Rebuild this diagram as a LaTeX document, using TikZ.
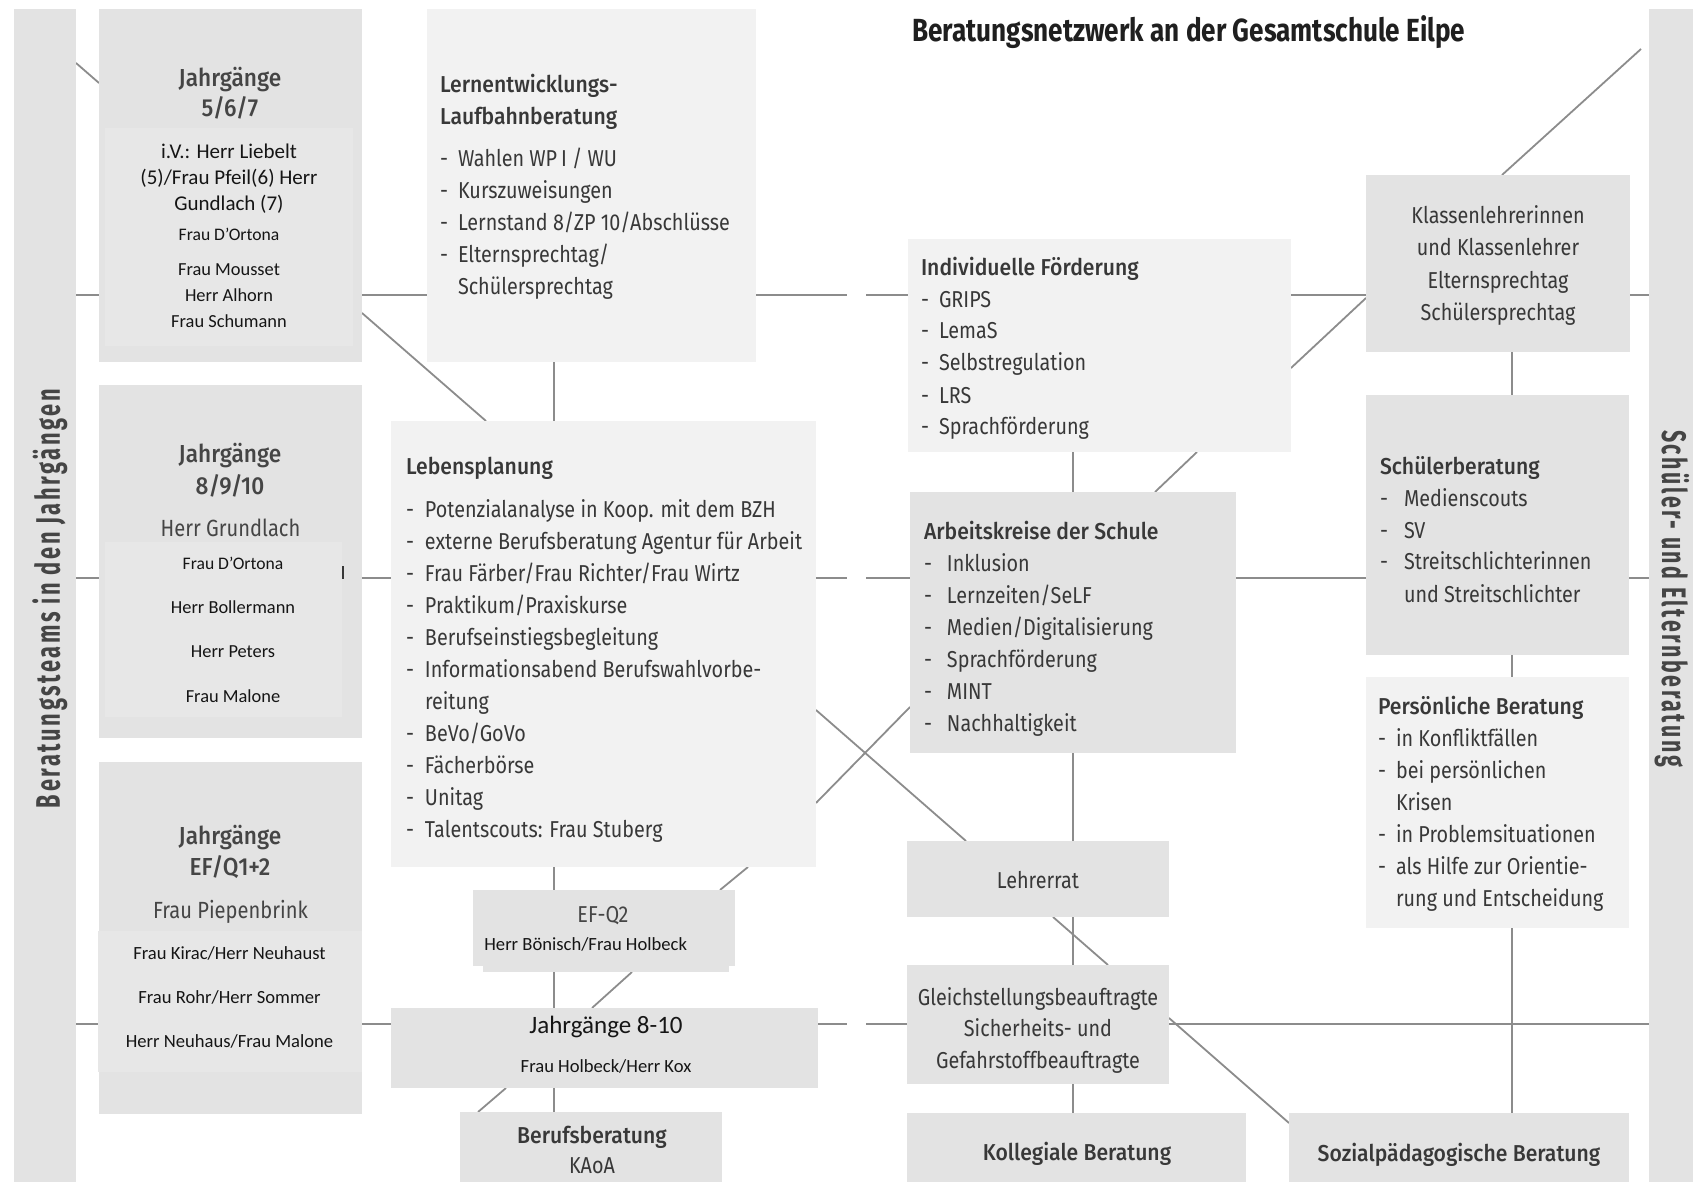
\documentclass[tikz,border=0pt]{standalone}
\usepackage{fontspec}
\usepackage{graphicx}
\usetikzlibrary{fit,calc,backgrounds}

\setmainfont{Fira Sans}[FakeStretch=0.86]
\IfFontExistsTF{FiraSans-Medium.otf}
  {\newfontfamily\headfont{FiraSans-Medium.otf}[FakeStretch=0.92]}
  {\IfFontExistsTF{Fira Sans Medium}
    {\newfontfamily\headfont{Fira Sans Medium}[FakeStretch=0.92]}
    {\newfontfamily\headfontbase{Fira Sans}[FakeStretch=0.9]\newcommand\headfont{\headfontbase\bfseries}}}
\newfontfamily\namefont{Carlito}
\newfontfamily\labelfont{Fira Sans}[FakeStretch=0.8]
\newfontfamily\spacedfont{Fira Sans}[FakeStretch=0.75, LetterSpace=9]

\definecolor{boxgray}{HTML}{E3E3E3}
\definecolor{innergray}{HTML}{E7E7E7}
\definecolor{lightbox}{HTML}{F2F2F2}
\definecolor{linegray}{HTML}{8C8C8C}
\definecolor{txtgray}{HTML}{383838}
\definecolor{headgray}{HTML}{454545}
\definecolor{namecol}{HTML}{151515}

% squeeze a text horizontally to a given width (in pt)
\newsavebox\fitbox
\newcommand\hfit[2]{\sbox\fitbox{#2}\pgfmathsetmacro\fitratio{#1/\the\wd\fitbox}\scalebox{\fitratio}[1]{\usebox\fitbox}}
% first-line strut, list item and continuation line
\newcommand\fst{\rule{0pt}{12pt}}
\newcommand\itm[2][9]{\makebox[#1pt][l]{-}#2}
\newcommand\cnt[2][9]{\hspace*{#1pt}#2}

\begin{document}
\begin{tikzpicture}[x=0.5pt, y=-0.5pt,
  panel/.style={fill=boxgray, inner sep=0pt, outer sep=0pt},
  lpanel/.style={panel, fill=lightbox},
  ipanel/.style={panel, fill=innergray},
  link/.style={draw=linegray, line width=0.9pt},
  list/.style={anchor=north west, inner sep=0pt, outer sep=0pt, align=left,
    text=txtgray, font=\fontsize{11.5}{16}\selectfont},
  clist/.style={list, anchor=north, align=center},
  one/.style={anchor=base, inner sep=0pt, outer sep=0pt, text=txtgray,
    font=\fontsize{11.5}{16}\selectfont},
  names/.style={clist, text=namecol, font=\namefont\fontsize{9.3}{22}\selectfont},
  sidelabel/.style={anchor=base, inner sep=0pt, text=headgray,
    font=\spacedfont\bfseries\fontsize{17}{17}\selectfont}
]
\useasboundingbox (0,0) rectangle (1693,1182);

% ---- side bars
\node[panel, fit={(14,9)(76,1182)}] (leftbar) {};
\node[panel, fit={(1649,9)(1693,1182)}] (rightbar) {};

% ---- left column: year teams
\node[panel, fit={(99,9)(362,362)}] (j567) {};
\node[ipanel, fit={(105,128)(353,346)}] (j567in) {};
\node[panel, fit={(99,385)(362,738)}] (j8910) {};
\node[ipanel, fit={(105,542)(342,717)}] (j8910in) {};
\node[panel, fit={(99,762)(362,1114)}] (jef) {};
\node[ipanel, fit={(98,931)(362,1072)}] (jefin) {};

% ---- second column
\node[lpanel, fit={(427,9)(756,362)}] (lernen) {};
\node[lpanel, fit={(391,421)(816,867)}] (lebens) {};
\node[panel, fit={(473,890)(735,966)}] (efq2) {};
\node[panel, fit={(483,930)(729,972)}] (efq2in) {};
\node[panel, fit={(391,1008)(818,1088)}] (j810) {};
\node[panel, fit={(460,1112)(722,1182)}] (beruf) {};

% ---- third column
\node[lpanel, fit={(908,239)(1291,452)}] (indiv) {};
\node[panel, fit={(910,492)(1236,753)}] (ak) {};
\node[panel, fit={(907,841)(1169,917)}] (lehrer) {};
\node[panel, fit={(907,965)(1169,1084)}] (gleich) {};
\node[panel, fit={(907,1113)(1246,1182)}] (koll) {};

% ---- fourth column
\node[panel, fit={(1366,175)(1630,352)}] (klassen) {};
\node[panel, fit={(1366,395)(1629,655)}] (sb) {};
\node[lpanel, fit={(1366,677)(1629,928)}] (pb) {};
\node[panel, fit={(1289,1113)(1629,1182)}] (sozial) {};

% ---- connectors behind the boxes
\coordinate (row1) at (0,295);
\coordinate (row2) at (0,578);
\coordinate (row3) at (0,1024);
\coordinate (gapL) at (847,0);
\coordinate (gapR) at (866,0);
\coordinate (col1) at (554,0);
\coordinate (col2) at (1073,0);
\coordinate (col3) at (1512,0);

\begin{scope}[on background layer]
  % horizontal rows
  \draw[link] (leftbar.east |- row1) -- (j567.west |- row1);
  \draw[link] (j567.east |- row1) -- (lernen.west |- row1);
  \draw[link] (lernen.east |- row1) -- (gapL |- row1);
  \draw[link] (gapR |- row1) -- (indiv.west |- row1);
  \draw[link] (indiv.east |- row1) -- (klassen.west |- row1);
  \draw[link] (klassen.east |- row1) -- (rightbar.west |- row1);

  \draw[link] (leftbar.east |- row2) -- (j8910.west |- row2);
  \draw[link] (j8910.east |- row2) -- (lebens.west |- row2);
  \draw[link] (lebens.east |- row2) -- (gapL |- row2);
  \draw[link] (gapR |- row2) -- (ak.west |- row2);
  \draw[link] (ak.east |- row2) -- (sb.west |- row2);
  \draw[link] (sb.east |- row2) -- (rightbar.west |- row2);

  \draw[link] (leftbar.east |- row3) -- (jef.west |- row3);
  \draw[link] (jef.east |- row3) -- (j810.west |- row3);
  \draw[link] (j810.east |- row3) -- (gapL |- row3);
  \draw[link] (gapR |- row3) -- (gleich.west |- row3);
  \draw[link] (gleich.east |- row3) -- (rightbar.west |- row3);

  % vertical columns
  \draw[link] (lernen.south -| col1) -- (lebens.north -| col1);
  \draw[link] (lebens.south -| col1) -- (efq2.north -| col1);
  \draw[link] (efq2in.south -| col1) -- (j810.north -| col1);
  \draw[link] (j810.south -| col1) -- (beruf.north -| col1);

  \draw[link] (indiv.south -| col2) -- (ak.north -| col2);
  \draw[link] (ak.south -| col2) -- (lehrer.north -| col2);
  \draw[link] (lehrer.south -| col2) -- (gleich.north -| col2);
  \draw[link] (gleich.south -| col2) -- (koll.north -| col2);

  \draw[link] (klassen.south -| col3) -- (sb.north -| col3);
  \draw[link] (sb.south -| col3) -- (pb.north -| col3);
  \draw[link] (pb.south -| col3) -- (sozial.north -| col3);

  % falling diagonal
  \draw[link] ($(leftbar.north east)+(0,54)$) -- ($(j567.north west)+(0,74)$);
  \draw[link] ($(j567.south east)+(0,-49)$) -- ($(lebens.north west)+(95,0)$);
  \draw[link] ($(lebens.north east)+(0,289)$) -- ($(lehrer.north west)+(59,0)$);
  \draw[link] ($(lehrer.south west)+(146,0)$) -- ($(gleich.north west)+(201,0)$);
  \draw[link] ($(gleich.north east)+(0,53)$) -- ($(sozial.north west)+(0,10)$);

  % rising diagonal
  \draw[link] ($(rightbar.north west)+(-8,40)$) -- ($(klassen.north west)+(136,0)$);
  \draw[link] ($(klassen.north west)+(0,123)$) -- ($(indiv.north east)+(0,129)$);
  \draw[link] ($(indiv.south west)+(289,0)$) -- ($(ak.north west)+(245,0)$);
  \draw[link] ($(ak.north west)+(0,215)$) -- ($(lebens.north east)+(0,382)$);
  \draw[link] ($(lebens.south east)+(-68,0)$) -- ($(efq2.north west)+(247,0)$);
  \draw[link] ($(efq2in.south west)+(149,0)$) -- ($(j810.north west)+(201,0)$);
  \draw[link] ($(j810.south west)+(115,0)$) -- ($(beruf.north west)+(18,0)$);
\end{scope}

% ---- title and side labels
\node[anchor=base west, inner sep=0pt, text=black!88] (title) at (912,42)
  {\hfit{276.5}{\labelfont\bfseries\fontsize{16}{16}\selectfont Beratungsnetzwerk an der Gesamtschule Eilpe}};
\node[sidelabel, rotate=90] (leftlabel) at (60,598.5)
  {\hfit{209.5}{Beratungsteams in den Jahrgängen}};
\node[sidelabel, rotate=-90] (rightlabel) at (1662,598.5)
  {\hfit{168.5}{Schüler- und Elternberatung}};

% ---- year team texts
\node[clist, text=headgray, font=\headfont\fontsize{12.3}{15}\selectfont] (t567) at (230,63)
  {\fst Jahrgänge\\5/6/7};
\node[names, font=\namefont\fontsize{10.5}{13}\selectfont] (n567a) at (229,135)
  {\fst i.V.: Herr Liebelt\\(5)/Frau Pfeil(6) Herr\\Gundlach (7)};
\node[one, text=namecol, font=\namefont\fontsize{8.8}{13}\selectfont] (n567b) at (229,241) {Frau D’Ortona};
\node[names, font=\namefont\fontsize{9.2}{13}\selectfont] (n567c) at (229,252)
  {\fst Frau Mousset\\Herr Alhorn\\Frau Schumann};

\node[clist, text=headgray, font=\headfont\fontsize{12.3}{16}\selectfont] (t8910) at (230,438)
  {\fst Jahrgänge\\8/9/10};
\node[one, text=headgray, font=\fontsize{11.7}{16}\selectfont] (h8910) at (230.5,536) {Herr Grundlach};
\node[names, font=\namefont\fontsize{9.2}{22.2}\selectfont] (n8910) at (233,545)
  {\fst{\fontsize{8.8}{22.2}\selectfont Frau D’Ortona}\\Herr Bollermann\\Herr Peters\\Frau Malone};
\draw[line width=1pt, txtgray] (343,566) -- (343,579);

\node[clist, text=headgray, font=\headfont\fontsize{12.3}{15.5}\selectfont] (tef) at (230,820)
  {\fst Jahrgänge\\EF/Q1+2};
\node[one, text=headgray, font=\fontsize{11.7}{16}\selectfont] (hef) at (230.5,918) {Frau Piepenbrink};
\node[names] (nef) at (229.5,935)
  {\fst Frau Kirac/Herr Neuhaust\\Frau Rohr/Herr Sommer\\Herr Neuhaus/Frau Malone};

% ---- second column texts
\node[list] (lernentxt) at (440,69)
  {\fst{\headfont Lernentwicklungs-}\\{\headfont Laufbahnberatung}\\[5pt]
   \itm{Wahlen WP\,I / WU}\\\itm{Kurszuweisungen}\\\itm{Lernstand 8/ZP 10/Abschlüsse}\\
   \itm{Elternsprechtag/}\\\cnt{Schülersprechtag}};

\node[list] (lebenstxt) at (406,450)
  {\fst{\headfont Lebensplanung}\\[5.5pt]
   \itm[9.5]{Potenzialanalyse in Koop. mit dem BZH}\\
   \itm[9.5]{externe Berufsberatung Agentur für Arbeit}\\
   \itm[9.5]{Frau Färber/Frau Richter/Frau Wirtz}\\
   \itm[9.5]{Praktikum/Praxiskurse}\\
   \itm[9.5]{Berufseinstiegsbegleitung}\\
   \itm[9.5]{Informationsabend Berufswahlvorbe-}\\
   \cnt[9.5]{reitung}\\
   \itm[9.5]{BeVo/GoVo}\\
   \itm[9.5]{Fächerbörse}\\
   \itm[9.5]{Unitag}\\
   \itm[9.5]{Talentscouts: Frau Stuberg}};

\node[one, text=headgray] (efq2txt) at (603,922) {EF-Q2};
\node[anchor=base west, inner sep=0pt, text=namecol, font=\namefont\fontsize{9.3}{12}\selectfont]
  (efq2names) at (484,950) {Herr Bönisch/Frau Holbeck};
\node[one, text=namecol, font=\namefont\fontsize{12.5}{15}\selectfont] (j810txt) at (606,1033) {Jahrgänge 8-10};
\node[one, text=namecol, font=\namefont\fontsize{9.3}{12}\selectfont] (j810names) at (606,1072) {Frau Holbeck/Herr Kox};
\node[clist, font=\fontsize{11.5}{15}\selectfont] (berufstxt) at (592,1119)
  {\fst{\headfont Berufsberatung}\\KAoA};

% ---- third column texts
\node[list] (indivtxt) at (921,251)
  {\fst{\headfont Individuelle Förderung}\\
   \itm{GRIPS}\\\itm{LemaS}\\\itm{Selbstregulation}\\\itm{LRS}\\\itm{Sprachförderung}};
\node[list] (aktxt) at (924,515)
  {\fst{\headfont Arbeitskreise der Schule}\\
   \itm[11.5]{Inklusion}\\\itm[11.5]{Lernzeiten/SeLF}\\\itm[11.5]{Medien/Digitalisierung}\\
   \itm[11.5]{Sprachförderung}\\\itm[11.5]{MINT}\\\itm[11.5]{Nachhaltigkeit}};
\node[one] (lehrertxt) at (1038,888) {Lehrerrat};
\node[clist, font=\fontsize{11.5}{15.75}\selectfont] (gleichtxt) at (1038,981)
  {\fst Gleichstellungsbeauftragte\\Sicherheits- und\\Gefahrstoffbeauftragte};
\node[one, font=\headfont\fontsize{11.5}{16}\selectfont] (kolltxt) at (1077,1160) {Kollegiale Beratung};

% ---- fourth column texts
\node[clist, font=\fontsize{11.5}{16.3}\selectfont] (klassentxt) at (1498,199)
  {\fst Klassenlehrerinnen\\und Klassenlehrer\\Elternsprechtag\\Schülersprechtag};
\node[list] (sbtxt) at (1380,450)
  {\fst{\headfont Schülerberatung}\\
   \itm[12]{Medienscouts}\\\itm[12]{SV}\\\itm[12]{Streitschlichterinnen}\\\cnt[12]{und Streitschlichter}};
\node[list] (pbtxt) at (1378,690)
  {\fst{\headfont Persönliche Beratung}\\
   \itm{in Konfliktfällen}\\\itm{bei persönlichen}\\\cnt{Krisen}\\\itm{in Problemsituationen}\\
   \itm{als Hilfe zur Orientie-}\\\cnt{rung und Entscheidung}};
\node[one, font=\headfont\fontsize{11.5}{16}\selectfont] (sozialtxt) at (1459,1161) {Sozialpädagogische Beratung};
\end{tikzpicture}
\end{document}
